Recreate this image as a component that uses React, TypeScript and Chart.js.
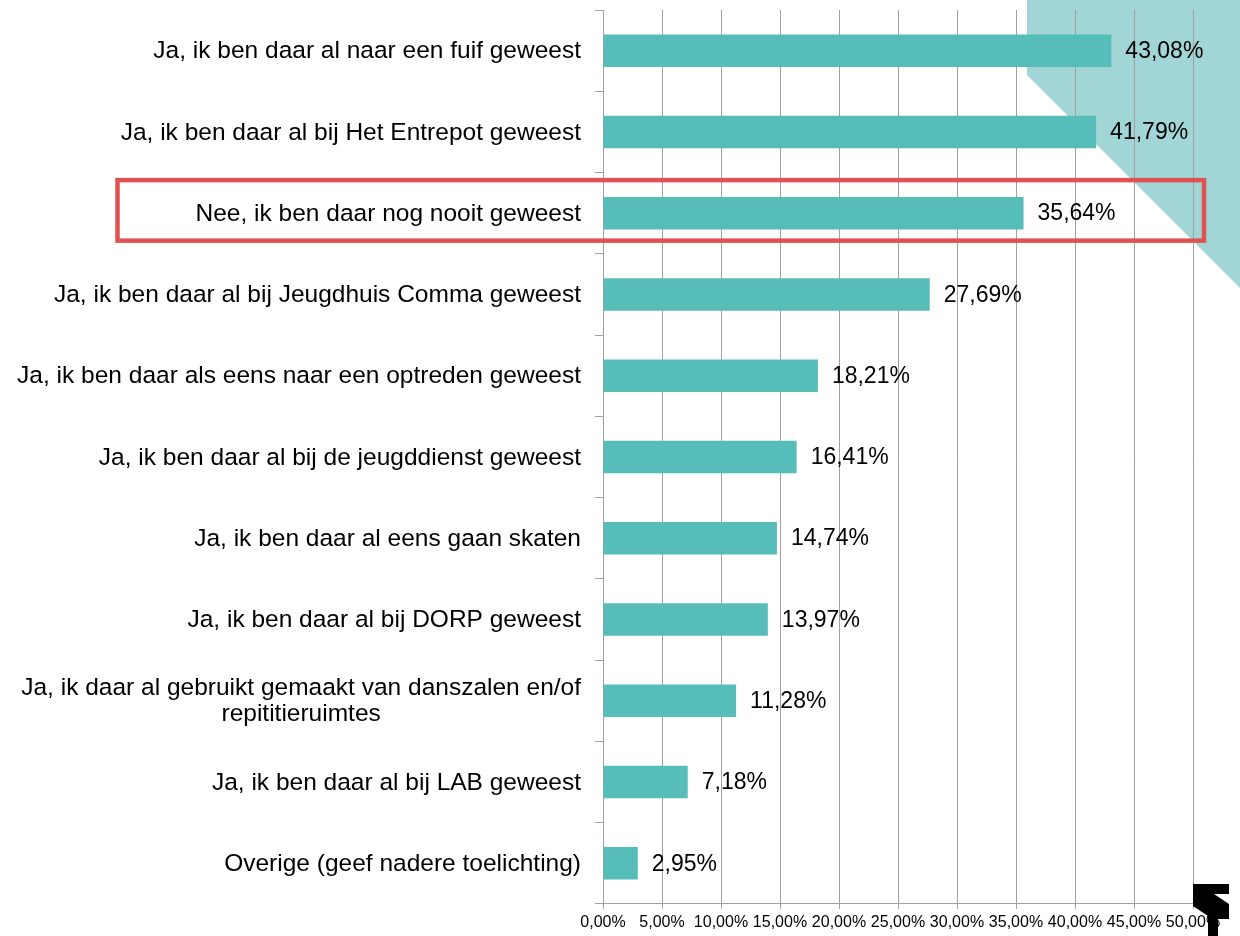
import React, { useEffect, useRef } from "react";
import { Chart, registerables } from "chart.js";

Chart.register(...registerables);

const categories: string[][] = [
  ["Ja, ik ben daar al naar een fuif geweest"],
  ["Ja, ik ben daar al bij Het Entrepot geweest"],
  ["Nee, ik ben daar nog nooit geweest"],
  ["Ja, ik ben daar al bij Jeugdhuis Comma geweest"],
  ["Ja, ik ben daar als eens naar een optreden geweest"],
  ["Ja, ik ben daar al bij de jeugddienst geweest"],
  ["Ja, ik ben daar al eens gaan skaten"],
  ["Ja, ik ben daar al bij DORP geweest"],
  ["Ja, ik daar al gebruikt gemaakt van danszalen en/of", "repititieruimtes"],
  ["Ja, ik ben daar al bij LAB geweest"],
  ["Overige (geef nadere toelichting)"],
];

const values: number[] = [43.08, 41.79, 35.64, 27.69, 18.21, 16.41, 14.74, 13.97, 11.28, 7.18, 2.95];

const xMin = 0;
const xMax = 50;
const xStep = 5;
const highlightIndex = 2;

const FONT = '"Liberation Sans", Arial, sans-serif';
const fmt = (v: number) => v.toFixed(2).replace(".", ",") + "%";

const decorPlugin = {
  id: "decor",
  beforeDraw(chart: any) {
    const ctx = chart.ctx;
    ctx.save();
    ctx.fillStyle = "#a2d6d6";
    ctx.beginPath();
    ctx.moveTo(1027, 0);
    ctx.lineTo(1240, 0);
    ctx.lineTo(1240, 288);
    ctx.lineTo(1027, 75);
    ctx.closePath();
    ctx.fill();
    ctx.restore();
  },
  afterDraw(chart: any) {
    const ctx = chart.ctx;
    const xs = chart.scales.x;
    const ys = chart.scales.y;
    ctx.save();
    ctx.font = `24.5px ${FONT}`;
    ctx.fillStyle = "#000";
    ctx.textBaseline = "middle";
    const labelRight = xs.left - 22;
    categories.forEach((lines, i) => {
      const y = ys.getPixelForValue(i);
      if (lines.length === 1) {
        ctx.textAlign = "right";
        ctx.fillText(lines[0], labelRight, y + 1);
      } else {
        const w = Math.max(...lines.map((l) => ctx.measureText(l).width));
        const cx = labelRight - w / 2;
        ctx.textAlign = "center";
        lines.forEach((l, k) => {
          ctx.fillText(l, cx, y + 1 + (k - (lines.length - 1) / 2) * 26);
        });
      }
    });
    ctx.font = `23px ${FONT}`;
    ctx.textAlign = "left";
    values.forEach((v, i) => {
      const y = ys.getPixelForValue(i);
      ctx.fillText(fmt(v), xs.getPixelForValue(v) + 14, y + 1);
    });
    // highlight box
    const yc = ys.getPixelForValue(highlightIndex);
    ctx.strokeStyle = "#e05252";
    ctx.lineWidth = 4.5;
    ctx.strokeRect(117.5, yc - 33, 1204 - 117.5, 60.5);
    // logo
    ctx.fillStyle = "#000";
    ctx.beginPath();
    const pts = [
      [1193, 884], [1229, 884], [1229, 894], [1214, 894], [1229, 904],
      [1229, 919], [1218, 919], [1218, 936], [1208, 936], [1208, 916], [1193, 906],
    ];
    pts.forEach(([px, py], k) => (k === 0 ? ctx.moveTo(px, py) : ctx.lineTo(px, py)));
    ctx.closePath();
    ctx.fill();
    ctx.restore();
  },
};

export default function App() {
  const ref = useRef<HTMLCanvasElement | null>(null);
  useEffect(() => {
    if (!ref.current) return;
    const chart = new Chart(ref.current, {
      type: "bar",
      data: {
        labels: categories.map((c) => c.join(" ")),
        datasets: [
          {
            data: values,
            backgroundColor: "#57bdb8",
            barPercentage: 0.4,
            categoryPercentage: 1,
          },
        ],
      },
      options: {
        indexAxis: "y",
        responsive: false,
        animation: false,
        layout: { padding: { left: 595, top: 10, right: 47, bottom: 0 } },
        plugins: { legend: { display: false }, tooltip: { enabled: false } },
        scales: {
          x: {
            min: xMin,
            max: xMax,
            ticks: {
              stepSize: xStep,
              callback: (v: any) => fmt(Number(v)),
              font: { family: FONT, size: 16 },
              color: "#000",
              padding: 4,
              maxRotation: 0,
              autoSkip: false,
            },
            grid: { color: "#a0a0a0", tickLength: 5, lineWidth: 1 },
            border: { color: "#a0a0a0" },
          },
          y: {
            offset: true,
            ticks: { display: false },
            grid: { drawOnChartArea: false, tickLength: 8, color: "#a0a0a0", offset: true },
            border: { color: "#a0a0a0" },
          },
        },
      },
      plugins: [decorPlugin],
    } as any);
    return () => chart.destroy();
  }, []);
  return (
    <div style={{ position: "absolute", left: 0, top: 0, width: 1240, height: 936 }}>
      <canvas ref={ref} width={1240} height={936} />
    </div>
  );
}
